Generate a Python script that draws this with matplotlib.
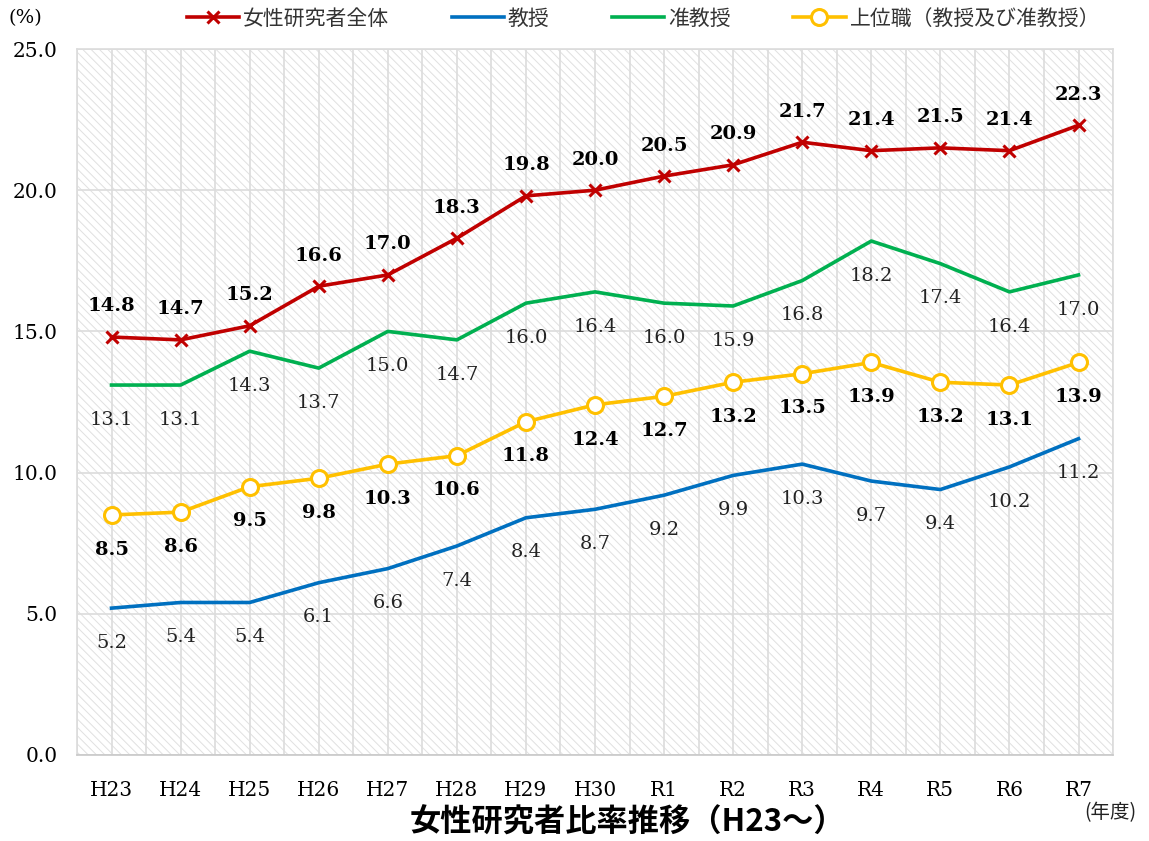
import numpy as np
import matplotlib
matplotlib.use("Agg")
import matplotlib.pyplot as plt
from matplotlib.patches import Rectangle

plt.rcParams["font.family"] = ["DejaVu Serif", "Noto Sans CJK JP"]
plt.rcParams["hatch.linewidth"] = 0.7

# data
years = ["H23", "H24", "H25", "H26", "H27", "H28", "H29", "H30",
         "R1", "R2", "R3", "R4", "R5", "R6", "R7"]
total = [14.8, 14.7, 15.2, 16.6, 17.0, 18.3, 19.8, 20.0, 20.5, 20.9, 21.7, 21.4, 21.5, 21.4, 22.3]
professor = [5.2, 5.4, 5.4, 6.1, 6.6, 7.4, 8.4, 8.7, 9.2, 9.9, 10.3, 9.7, 9.4, 10.2, 11.2]
assoc = [13.1, 13.1, 14.3, 13.7, 15.0, 14.7, 16.0, 16.4, 16.0, 15.9, 16.8, 18.2, 17.4, 16.4, 17.0]
upper = [8.5, 8.6, 9.5, 9.8, 10.3, 10.6, 11.8, 12.4, 12.7, 13.2, 13.5, 13.9, 13.2, 13.1, 13.9]

RED = "#C00000"
BLUE = "#0070C0"
GREEN = "#00B050"
YELLOW = "#FFC000"

fig = plt.figure(figsize=(11.49, 8.41), dpi=100)
ax = fig.add_axes([0.067, 0.1023, 0.9017, 0.8394])

x = np.arange(len(years))

# hatched background
ax.add_patch(Rectangle((0, 0), 1, 1, transform=ax.transAxes, facecolor="white",
                       edgecolor="#e0e0e0", hatch="\\\\\\\\", lw=0, zorder=0))

ax.plot(x, professor, color=BLUE, lw=2.6, zorder=3, label="教授")
ax.plot(x, assoc, color=GREEN, lw=2.6, zorder=3, label="准教授")
ax.plot(x, upper, color=YELLOW, lw=2.6, marker="o", ms=11.5, mfc="white",
        mec=YELLOW, mew=2.2, zorder=4, label="上位職（教授及び准教授）")
ax.plot(x, total, color=RED, lw=2.6, marker="x", ms=9, mew=2.2, zorder=5,
        label="女性研究者全体")

for xi, v in zip(x, total):
    ax.annotate(f"{v:.1f}", (xi, v), xytext=(0, 22), textcoords="offset points",
                ha="center", va="center", fontsize=14, fontweight="bold")
for xi, v in zip(x, upper):
    ax.annotate(f"{v:.1f}", (xi, v), xytext=(0, -25), textcoords="offset points",
                ha="center", va="center", fontsize=14, fontweight="bold")
for xi, v in zip(x, assoc):
    ax.annotate(f"{v:.1f}", (xi, v), xytext=(0, -25), textcoords="offset points",
                ha="center", va="center", fontsize=14, color="#222222")
for xi, v in zip(x, professor):
    ax.annotate(f"{v:.1f}", (xi, v), xytext=(0, -25), textcoords="offset points",
                ha="center", va="center", fontsize=14, color="#222222")

ax.set_xlim(-0.5, len(years) - 0.5)
ax.set_ylim(0, 25)
ax.set_xticks(x)
ax.set_xticklabels(years, fontsize=14.5)
ax.set_xticks(np.arange(-0.5, len(years), 1.0), minor=True)
ax.set_yticks(np.arange(0, 25.1, 5))
ax.set_yticklabels([f"{v:.1f}" for v in np.arange(0, 25.1, 5)], fontsize=14.5)
ax.tick_params(which="both", length=0)
ax.tick_params(axis="x", pad=19)
ax.tick_params(axis="y", pad=14)
ax.grid(axis="x", which="both", color="#dcdcdc", lw=1.2, zorder=1)
ax.grid(axis="y", which="major", color="#dcdcdc", lw=1.2, zorder=1)
ax.set_axisbelow(True)
for s in ax.spines.values():
    s.set_color("#dcdcdc")
    s.set_linewidth(1.2)
ax.spines["bottom"].set_color("#c8c8c8")

handles, labels = ax.get_legend_handles_labels()
order = [3, 0, 1, 2]
fig.legend([handles[i] for i in order], [labels[i] for i in order],
           loc="center", bbox_to_anchor=(0.56, 0.978), ncol=4, frameon=False,
           prop={"family": "Noto Sans CJK JP", "size": 15},
           handlelength=2.5, columnspacing=3.0, handletextpad=0.2,
           labelcolor="#333333")

fig.text(0.007, 0.978, "(%)", fontsize=14, ha="left", va="center")
fig.text(0.966, 0.034, "(年度)", fontsize=14, ha="center", va="center",
         family=["Noto Sans CJK JP"], color="#222222")
fig.text(0.546, 0.022, "女性研究者比率推移（H23～）", fontsize=22.5, ha="center",
         va="center", fontweight="bold", family=["Noto Sans CJK JP"])

fig.savefig("out.png", dpi=100)
